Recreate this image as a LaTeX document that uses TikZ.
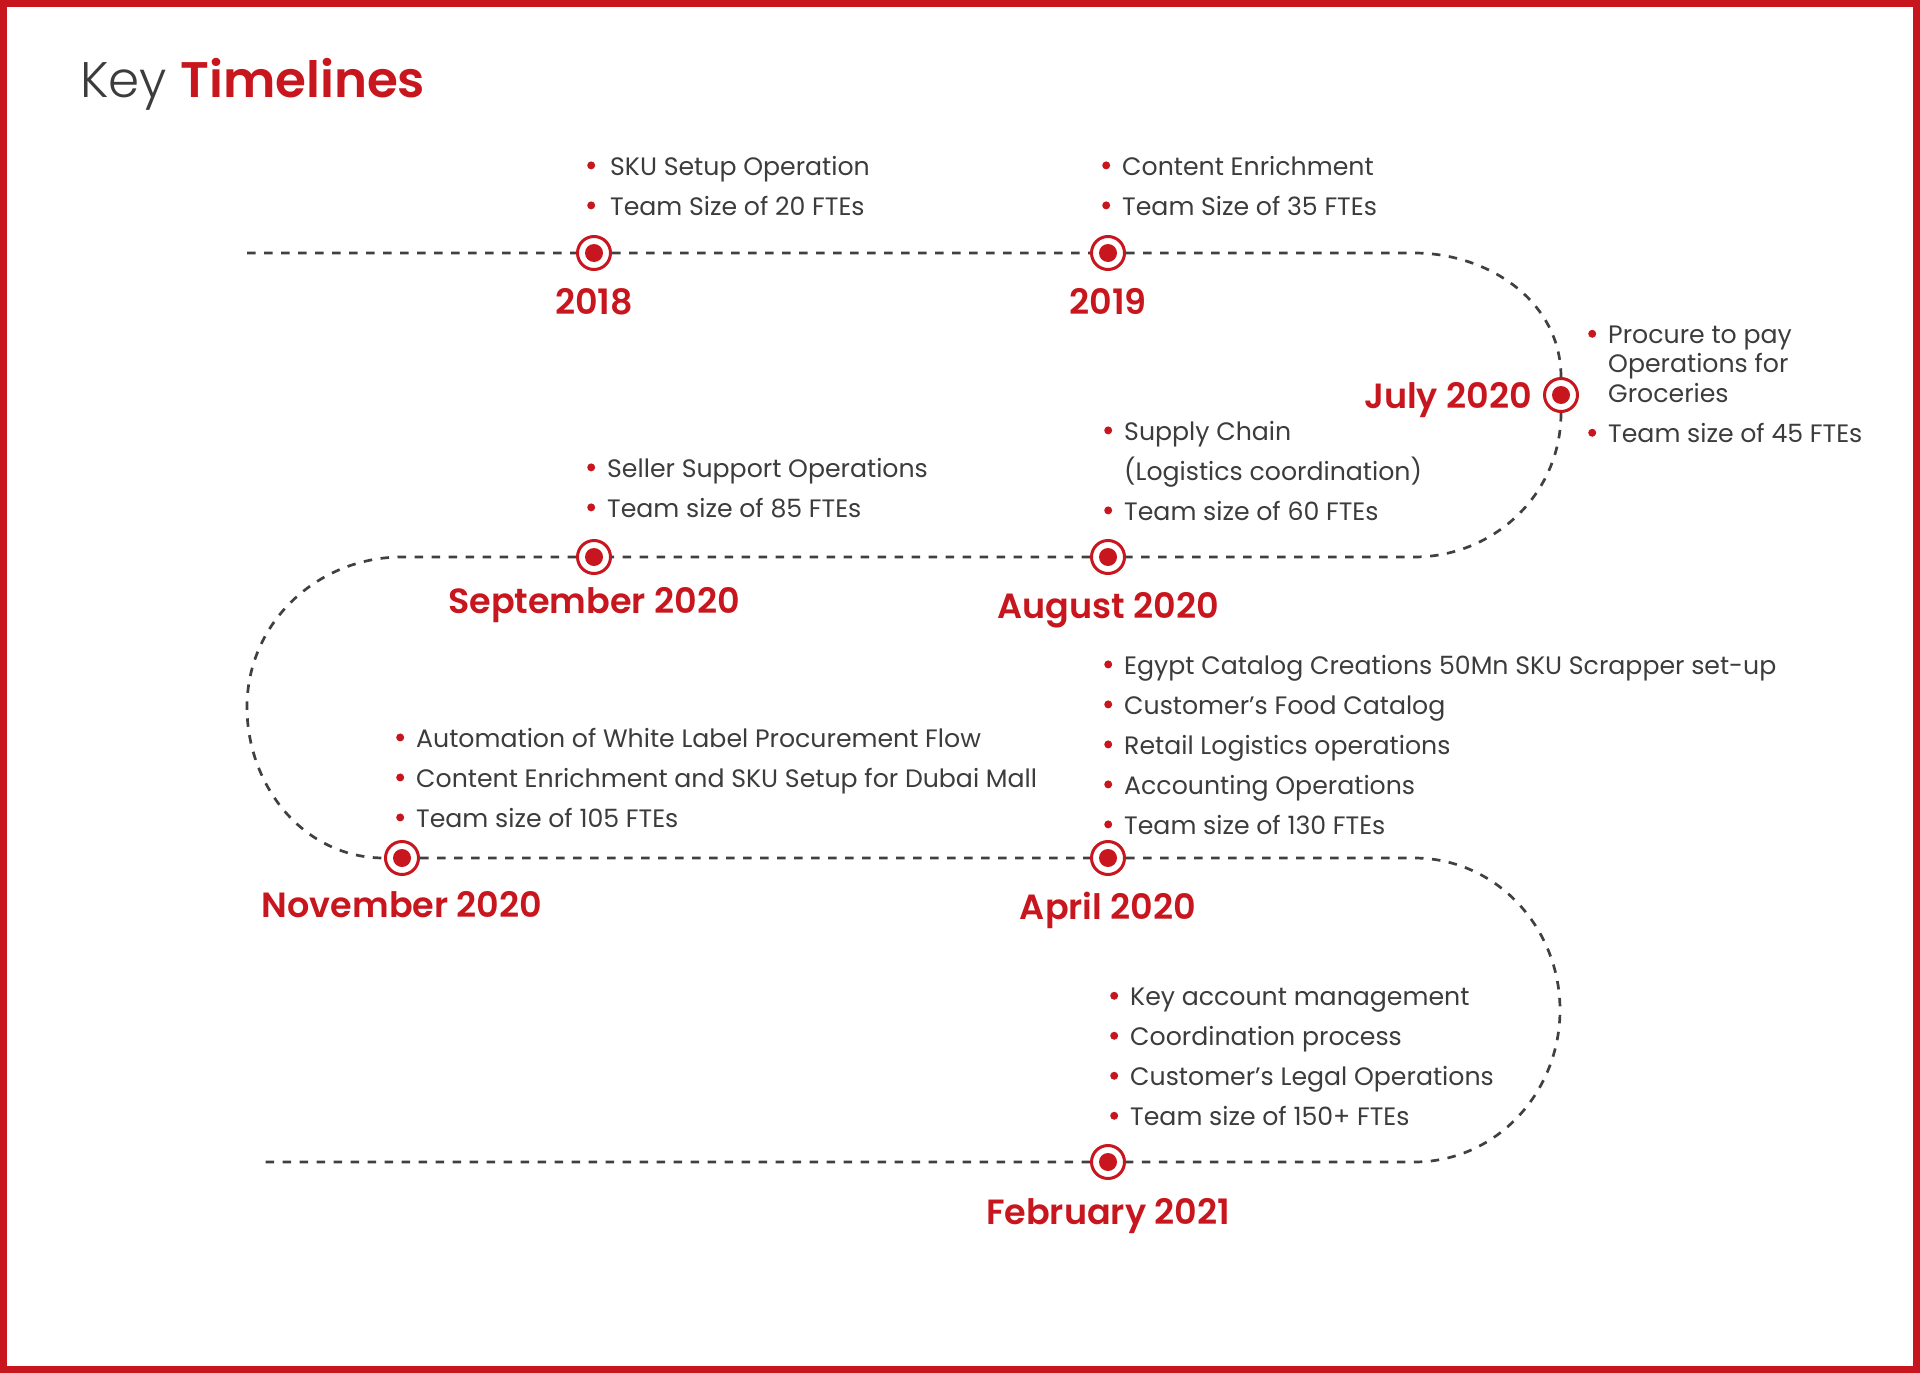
\documentclass[tikz,border=0pt]{standalone}
\usepackage{fontspec}
\setmainfont{Poppins}
\newfontfamily\poplight{Poppins Light}
\newfontfamily\popsemi{Poppins SemiBold}
\usepackage{xcolor}
\usetikzlibrary{positioning,backgrounds}
\definecolor{tred}{HTML}{C8161E}
\definecolor{tgray}{HTML}{3C3C3C}
\definecolor{tline}{HTML}{404040}
\newcommand{\bul}{\tikz[baseline=-10pt]\fill[tred] (0pt,0pt) circle (4pt);\hspace{12pt}}
\newcommand{\nobul}{\hspace{20pt}}
\tikzset{
  marker/.style={circle, draw=tred, line width=3pt, fill=white, minimum size=33pt, inner sep=0pt,
    path picture={\fill[tred] (path picture bounding box.center) circle (9pt);}},
  year/.style={font=\popsemi\fontsize{35}{40}\selectfont, text=tred, inner sep=0pt, text height=25pt, text depth=8pt},
  items/.style={font=\fontsize{25.2}{40}\selectfont, text=tgray, align=left, anchor=north west, inner sep=0pt,
    execute at begin node={\rule{0pt}{22pt}}},
  track/.style={draw=tline, line width=2.7pt, dash pattern=on 8.5pt off 8.5pt}
}

\begin{document}
\begin{tikzpicture}[x=1pt, y=1pt]
  \useasboundingbox (0,0) rectangle (1920,-1373);
  \draw[tred, line width=7pt] (3.5,-3.5) rectangle (1916.5,-1369.5);

  \node[anchor=base west, inner sep=0pt, font=\fontsize{50}{60}\selectfont] (title) at (80,-97)
    {{\poplight\color{tgray}Key} {\popsemi\color{tred}Timelines}};

  % milestones
  \node[marker] (m2018) at (594,-253) {};
  \node[marker] (m2019) at (1108,-253) {};
  \node[marker] (mJul) at (1561,-395) {};
  \node[marker] (mAug) at (1108,-557) {};
  \node[marker] (mSep) at (594,-557) {};
  \node[marker] (mNov) at (402,-858) {};
  \node[marker] (mApr) at (1108,-858) {};
  \node[marker] (mFeb) at (1108,-1162) {};

  \node[year, below=18pt of m2018] (y2018) {2018};
  \node[year, below=18pt of m2019] (y2019) {2019};
  \node[year, left=11pt of mJul, yshift=-5pt] (yJul) {July 2020};
  \node[year, below=18pt of mAug] (yAug) {August 2020};
  \node[year, below=13pt of mSep] (ySep) {September 2020};
  \node[year, below=16pt of mNov] (yNov) {November 2020};
  \node[year, below=18pt of mApr] (yApr) {April 2020};
  \node[year, below=19pt of mFeb] (yFeb) {February 2021};

  % bullet lists
  \node[items] (l2018) at (587,-156) {\bul\hspace{3pt}SKU Setup Operation\\ \bul\hspace{3pt}Team Size of 20 FTEs};
  \node[items] (l2019) at (1102,-156) {\bul Content Enrichment\\ \bul Team Size of 35 FTEs};
  \node[items] (lJul) at (1588,-326) {\bul Procure to pay\\[-11pt] \nobul Operations for\\[-10pt] \nobul Groceries\\ \bul Team size of 45 FTEs};
  \node[items] (lAug) at (1104,-421) {\bul Supply Chain\\ \nobul (Logistics coordination)\\ \bul Team size of 60 FTEs};
  \node[items] (lSep) at (587,-458) {\bul Seller Support Operations\\ \bul Team size of 85 FTEs};
  \node[items] (lNov) at (396,-728) {\bul Automation of White Label Procurement Flow\\ \bul Content Enrichment and SKU Setup for Dubai Mall\\ \bul Team size of 105 FTEs};
  \node[items] (lApr) at (1104,-655) {\bul Egypt Catalog Creations 50Mn SKU Scrapper set-up\\ \bul Customer’s Food Catalog\\ \bul Retail Logistics operations\\ \bul Accounting Operations\\ \bul Team size of 130 FTEs};
  \node[items] (lFeb) at (1110,-988) {\bul Key account management\\ \bul Coordination process\\ \bul Customer’s Legal Operations\\ \bul Team size of 150+ FTEs};

  % track turns
  \coordinate (t0) at (247,-253);
  \coordinate (r1) at (1414,-253);
  \coordinate (r2) at (1414,-557);
  \coordinate (l2) at (402,-557);
  \coordinate (lmid) at (247,-707);
  \coordinate (r3) at (1414,-858);
  \coordinate (rmid) at (1560,-1010);
  \coordinate (r4) at (1414,-1162);
  \coordinate (t1) at (264,-1162);

  \begin{scope}[on background layer]
    \draw[track] (t0) -- (m2018) -- (m2019) -- (r1) to[out=0, in=90] (mJul)
      to[out=-90, in=0] (r2) -- (mAug) -- (mSep) -- (l2) to[out=180, in=90] (lmid)
      to[out=-90, in=180] (mNov) -- (mApr) -- (r3) to[out=0, in=90] (rmid)
      to[out=-90, in=0] (r4) -- (mFeb) -- (t1);
  \end{scope}
\end{tikzpicture}
\end{document}
